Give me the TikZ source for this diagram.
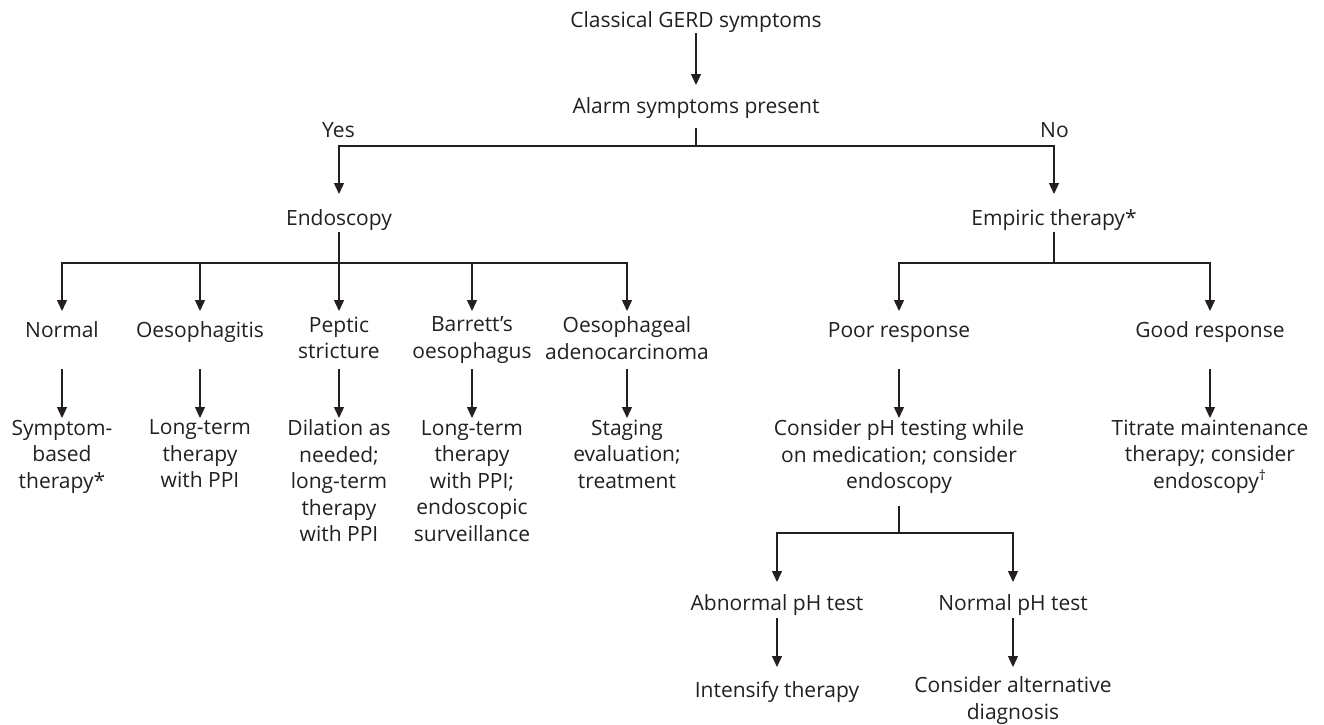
\documentclass[tikz,border=0pt]{standalone}
\usepackage{fontspec}
\setmainfont{Open Sans}
\usetikzlibrary{arrows.meta}
\definecolor{ink}{HTML}{231F20}
\begin{document}
\begin{tikzpicture}[x=0.5pt,y=-0.5pt,
  every node/.style={inner sep=0pt,outer sep=0pt,anchor=north,align=center,text=ink,
    font=\fontsize{10.5}{13.25}\selectfont,
    execute at begin node={\rule{0pt}{10pt}}},
  conn/.style={draw=ink,line width=0.65pt},
  arr/.style={conn,-{Triangle[width=5pt,length=5.5pt]}}]
\useasboundingbox (0,0) rectangle (1324,724);

% levels of the connectors
\coordinate (t0) at (0,33);  \coordinate (b0) at (0,85);
\coordinate (t1) at (0,128); \coordinate (h1) at (0,146); \coordinate (b1) at (0,194);
\coordinate (t2) at (0,232); \coordinate (h2) at (0,263); \coordinate (b2) at (0,311);
\coordinate (t3) at (0,369); \coordinate (b3) at (0,418);
\coordinate (t4) at (0,506); \coordinate (h4) at (0,533); \coordinate (b4) at (0,582);
\coordinate (t5) at (0,618); \coordinate (b5) at (0,667);

% nodes
\node (classical) at (696,7) {Classical GERD symptoms};
\node (alarm) at (696,93) {Alarm symptoms present};
\node (yes) at (338.5,117) {Yes};
\node (no) at (1054.5,117) {No};
\node (endo) at (339,205) {Endoscopy};
\node (empiric) at (1054,205) {Empiric therapy*};

\node (normal) at (62,317) {Normal};
\node (oeso) at (200,317) {Oesophagitis};
\node (peptic) at (339,317) {Peptic\\stricture};
\node (barrett) at (472,317) {Barrett’s\\oesophagus};
\node (adeno) at (627,317) {Oesophageal\\adenocarcinoma};
\node (poor) at (899,317) {Poor response};
\node (good) at (1210,317) {Good response};

\node (sympt) at (62,420) {Symptom-\\based\\therapy*};
\node (ltt) at (200,420) {Long-term\\therapy\\with PPI};
\node (dil) at (339,420) {Dilation as\\needed;\\long-term\\therapy\\with PPI};
\node (lts) at (472,420) {Long-term\\therapy\\with PPI;\\endoscopic\\surveillance};
\node (stag) at (627,420) {Staging\\evaluation;\\treatment};
\node (consider) at (899,420) {Consider pH testing while\\on medication; consider\\endoscopy};
\node (titrate) at (1210,420) {Titrate maintenance\\therapy; consider\\endoscopy\textsuperscript{\scriptsize †}};

\node (abn) at (777,590) {Abnormal pH test};
\node (nph) at (1013,590) {Normal pH test};
\node (intens) at (777,677) {Intensify therapy};
\node (alt) at (1013,677) {Consider alternative\\diagnosis};

% connectors
\draw[arr] (classical |- t0) -- (alarm |- b0);
\draw[conn] (alarm |- t1) -- (alarm |- h1);
\draw[arr] (alarm |- h1) -| (endo |- b1);
\draw[arr] (alarm |- h1) -| (empiric |- b1);

\draw[arr] (endo |- t2) -- (peptic |- b2);
\draw[arr] (endo |- h2) -| (normal |- b2);
\draw[arr] (endo |- h2) -| (oeso |- b2);
\draw[arr] (endo |- h2) -| (barrett |- b2);
\draw[arr] (endo |- h2) -| (adeno |- b2);

\draw[conn] (empiric |- t2) -- (empiric |- h2);
\draw[arr] (empiric |- h2) -| (poor |- b2);
\draw[arr] (empiric |- h2) -| (good |- b2);

\draw[arr] (normal |- t3) -- (sympt |- b3);
\draw[arr] (oeso |- t3) -- (ltt |- b3);
\draw[arr] (peptic |- t3) -- (dil |- b3);
\draw[arr] (barrett |- t3) -- (lts |- b3);
\draw[arr] (adeno |- t3) -- (stag |- b3);
\draw[arr] (poor |- t3) -- (consider |- b3);
\draw[arr] (good |- t3) -- (titrate |- b3);

\draw[conn] (consider |- t4) -- (consider |- h4);
\draw[arr] (consider |- h4) -| (abn |- b4);
\draw[arr] (consider |- h4) -| (nph |- b4);

\draw[arr] (abn |- t5) -- (intens |- b5);
\draw[arr] (nph |- t5) -- (alt |- b5);
\end{tikzpicture}
\end{document}
